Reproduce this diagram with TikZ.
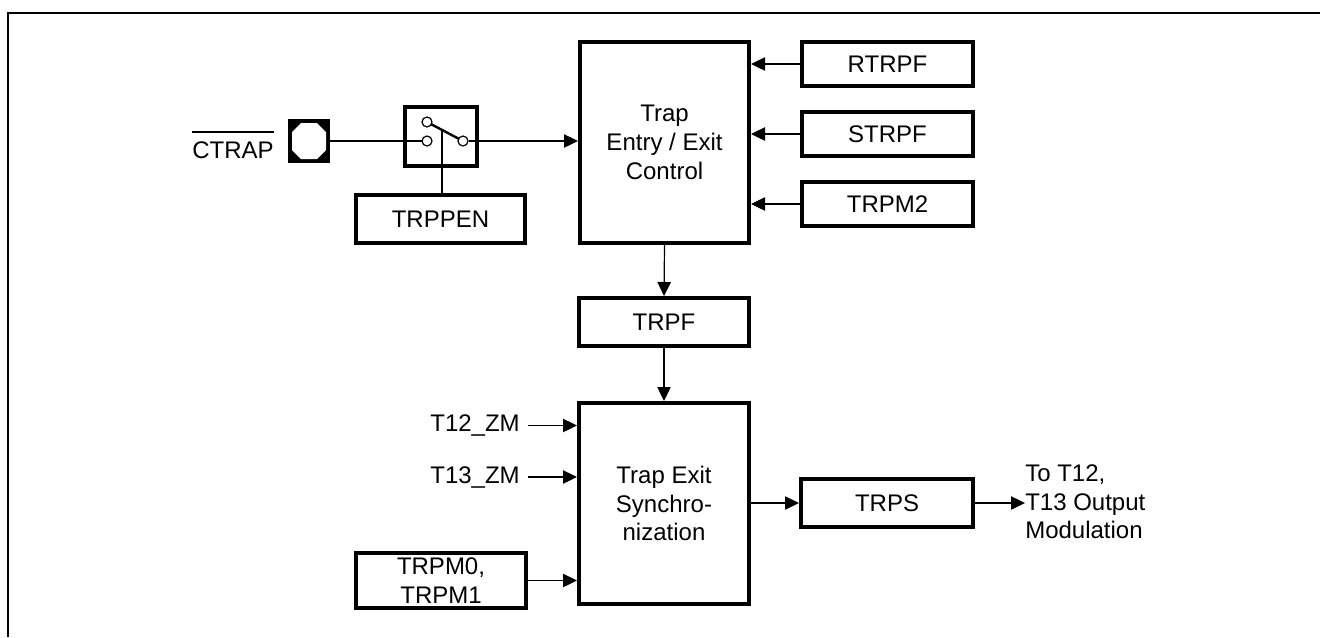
\documentclass[tikz,border=0pt]{standalone}
\usepackage{fontspec}
\setmainfont{Liberation Sans}
\usetikzlibrary{arrows.meta}
\begin{document}
\begin{tikzpicture}[x=0.75pt,y=-0.75pt,
  txt/.style={font=\fontsize{18}{21.5}\selectfont,align=center},
  blk/.style={draw,line width=3pt,inner sep=0pt,txt},
  conn/.style={line width=0.9pt},
  arr/.style={conn,-{Triangle[length=10.5pt,width=10pt]}},
  pincircle/.style={draw,fill=white,line width=0.9pt,circle,inner sep=0pt,minimum size=7.5pt}]
\useasboundingbox (0,0) rectangle (1320,637);
\draw[line width=1.1pt] (8,637) -- (8,13) -- (1320,13);

% blocks
\node[blk,minimum width=126.75pt,minimum height=150.75pt] (entry) at (664.5,142.5) {Trap\\Entry / Exit\\Control};
\node[blk,minimum width=128.25pt,minimum height=33pt] (rtrpf) at (887.5,64) {RTRPF};
\node[blk,minimum width=128.25pt,minimum height=33pt] (strpf) at (887.5,134) {STRPF};
\node[blk,minimum width=128.25pt,minimum height=33pt] (trpm2) at (887.5,204) {TRPM2};
\node[blk,minimum width=127.5pt,minimum height=36pt] (trpf) at (664,322) {TRPF};
\node[blk,minimum width=127.5pt,minimum height=150.75pt] (sync) at (664,503.5) {Trap Exit\\Synchro-\\nization};
\node[blk,minimum width=129pt,minimum height=36pt] (trps) at (887,503) {TRPS};
\node[blk,minimum width=126.75pt,minimum height=36pt] (trppen) at (440.5,219) {TRPPEN};
\node[blk,minimum width=127.5pt,minimum height=41.25pt] (trpm0) at (441,580.5) {TRPM0,\\TRPM1};
\node[blk,minimum width=54pt,minimum height=44.25pt] (sw) at (441,136.5) {};

% pin
\node[fill=black,inner sep=0pt,minimum width=31.5pt,minimum height=33pt] (pin) at (309,141) {};
\fill[white] (301,123) -- (317,123) -- (326,132) -- (326,150) -- (317,159) -- (301,159) -- (292,150) -- (292,132) -- cycle;

% CTRAP label
\node[txt,inner sep=0pt,anchor=base east] (ctrap) at (274,158) {CTRAP};
\draw[line width=0.8pt] ([yshift=6.75pt]ctrap.north west) -- ([yshift=6.75pt]ctrap.north east);

% switch internals
\coordinate (c1) at (427,122);
\coordinate (c2) at (427,141);
\coordinate (c3) at (463,141);
\coordinate (lv) at (442,130);
\draw[conn] (pin.east) -- (c2);
\draw[conn] (lv) -- (lv |- trppen.north);
\draw[line width=1.8pt] (c1) -- (c3);
\node[pincircle] (k1) at (c1) {};
\node[pincircle] (k2) at (c2) {};
\node[pincircle] (k3) at (c3) {};
\draw[arr] (k3.east) -- (entry.west |- k3);

% inputs to entry
\draw[arr] (rtrpf.west) -- (entry.east |- rtrpf);
\draw[arr] (strpf.west) -- (entry.east |- strpf);
\draw[arr] (trpm2.west) -- (entry.east |- trpm2);

% vertical chain
\draw[arr] (entry.south) -- (trpf.north);
\draw[arr] (trpf.south) -- (sync.north);

% sync inputs
\node[txt,inner sep=0pt,anchor=east] (t12) at (520,425.5) {T12\_ZM};
\node[txt,inner sep=0pt,anchor=east] (t13) at (520,477) {T13\_ZM};
\draw[arr] ([xshift=6pt]t12.east) -- (sync.west |- t12);
\draw[arr] ([xshift=6pt]t13.east) -- (sync.west |- t13);
\draw[arr] (trpm0.east) -- (sync.west |- trpm0);

% output
\draw[arr] (sync.east |- trps) -- (trps.west);
\node[txt,align=left,inner sep=0pt,anchor=west] (out) at (1025,502) {To T12,\\T13 Output\\Modulation};
\draw[arr] (trps.east) -- (out.west |- trps);
\end{tikzpicture}
\end{document}
